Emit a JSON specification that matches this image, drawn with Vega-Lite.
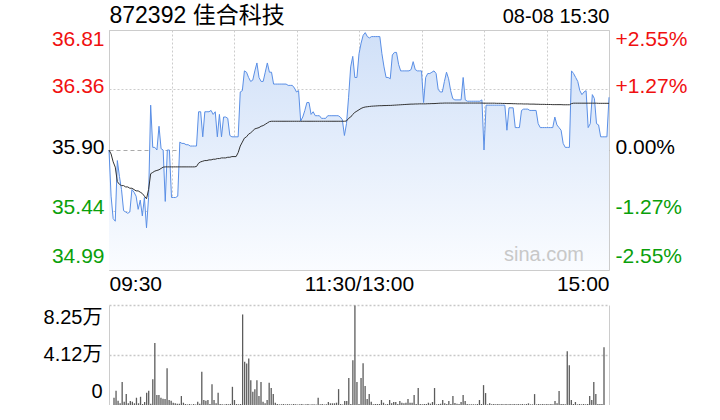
{
  "$schema": "https://vega.github.io/schema/vega-lite/v6.json",
  "padding": {"left": 43, "top": 3, "right": 0, "bottom": 0},
  "bounds": "flush",
  "spacing": 35,
  "config": {
    "view": {"stroke": null},
    "font": "Liberation Sans, Noto Sans CJK SC, sans-serif",
    "axis": {"labelFont": "Liberation Sans, Noto Sans CJK SC, sans-serif", "titleFont": "Liberation Sans, Noto Sans CJK SC, sans-serif"}
  },
  "data": {"values": [
    {"t":0,"p":35.90,"a":35.900,"v":6000},{"t":1,"p":35.55,"a":35.870,"v":11800},{"t":2,"p":35.38,"a":35.810,"v":3500},{"t":3,"p":35.36,"a":35.770,"v":1400},{"t":4,"p":35.82,"a":35.660,"v":18900},{"t":5,"p":35.70,"a":35.640,"v":2700},{"t":6,"p":35.60,"a":35.630,"v":9000},{"t":7,"p":35.44,"a":35.630,"v":1400},{"t":8,"p":35.43,"a":35.620,"v":3300},{"t":9,"p":35.42,"a":35.620,"v":2700},
    {"t":10,"p":35.43,"a":35.610,"v":1400},{"t":11,"p":35.60,"a":35.610,"v":6000},{"t":12,"p":35.58,"a":35.600,"v":1400},{"t":13,"p":35.55,"a":35.590,"v":6800},{"t":14,"p":35.45,"a":35.590,"v":800},{"t":15,"p":35.52,"a":35.580,"v":2500},{"t":16,"p":35.40,"a":35.570,"v":10100},{"t":17,"p":35.54,"a":35.550,"v":11800},{"t":18,"p":35.31,"a":35.530,"v":1100},{"t":19,"p":35.54,"a":35.600,"v":21300},
    {"t":20,"p":36.24,"a":35.720,"v":51200},{"t":21,"p":35.92,"a":35.730,"v":8200},{"t":22,"p":35.92,"a":35.740,"v":8200},{"t":23,"p":35.90,"a":35.745,"v":6000},{"t":24,"p":36.08,"a":35.750,"v":5200},{"t":25,"p":35.91,"a":35.760,"v":4900},{"t":26,"p":35.90,"a":35.770,"v":30400},{"t":27,"p":35.51,"a":35.772,"v":4100},{"t":28,"p":35.90,"a":35.772,"v":3500},{"t":29,"p":35.90,"a":35.772,"v":1900},
    {"t":30,"p":35.54,"a":35.772,"v":1400},{"t":31,"p":35.54,"a":35.772,"v":1100},{"t":32,"p":35.54,"a":35.772,"v":1100},{"t":33,"p":35.55,"a":35.772,"v":7400},{"t":34,"p":35.96,"a":35.772,"v":1900},{"t":35,"p":35.95,"a":35.772,"v":800},{"t":36,"p":35.95,"a":35.772,"v":500},{"t":37,"p":35.94,"a":35.772,"v":800},{"t":38,"p":35.94,"a":35.772,"v":400},{"t":39,"p":35.93,"a":35.772,"v":800},
    {"t":40,"p":35.93,"a":35.772,"v":500},{"t":41,"p":35.93,"a":35.772,"v":2700},{"t":42,"p":35.93,"a":35.775,"v":1100},{"t":43,"p":36.19,"a":35.800,"v":27400},{"t":44,"p":36.19,"a":35.810,"v":4100},{"t":45,"p":36.00,"a":35.815,"v":3600},{"t":46,"p":36.19,"a":35.820,"v":4100},{"t":47,"p":36.19,"a":35.820,"v":800},{"t":48,"p":36.19,"a":35.825,"v":17200},{"t":49,"p":36.20,"a":35.825,"v":4100},
    {"t":50,"p":36.17,"a":35.830,"v":1400},{"t":51,"p":36.19,"a":35.830,"v":10100},{"t":52,"p":36.00,"a":35.835,"v":800},{"t":53,"p":36.17,"a":35.835,"v":600},{"t":54,"p":36.00,"a":35.840,"v":500},{"t":55,"p":36.15,"a":35.840,"v":800},{"t":56,"p":36.15,"a":35.840,"v":600},{"t":57,"p":36.14,"a":35.845,"v":900},{"t":58,"p":36.01,"a":35.845,"v":15000},{"t":59,"p":36.00,"a":35.850,"v":4100},
    {"t":60,"p":36.00,"a":35.850,"v":800},{"t":61,"p":36.00,"a":35.850,"v":600},{"t":62,"p":36.00,"a":35.880,"v":800},{"t":63,"p":36.34,"a":35.930,"v":74700},{"t":64,"p":36.35,"a":35.960,"v":35600},{"t":65,"p":36.50,"a":35.990,"v":34200},{"t":66,"p":36.49,"a":36.000,"v":38300},{"t":67,"p":36.45,"a":36.020,"v":20500},{"t":68,"p":36.42,"a":36.030,"v":10900},{"t":69,"p":36.43,"a":36.045,"v":12900},
    {"t":70,"p":36.50,"a":36.060,"v":20500},{"t":71,"p":36.56,"a":36.065,"v":7400},{"t":72,"p":36.45,"a":36.070,"v":18900},{"t":73,"p":36.42,"a":36.080,"v":2700},{"t":74,"p":36.42,"a":36.085,"v":1400},{"t":75,"p":36.49,"a":36.095,"v":4100},{"t":76,"p":36.56,"a":36.105,"v":18300},{"t":77,"p":36.49,"a":36.115,"v":14000},{"t":78,"p":36.49,"a":36.118,"v":9000},{"t":79,"p":36.40,"a":36.118,"v":1900},
    {"t":80,"p":36.40,"a":36.118,"v":800},{"t":81,"p":36.40,"a":36.118,"v":500},{"t":82,"p":36.40,"a":36.118,"v":600},{"t":83,"p":36.40,"a":36.118,"v":800},{"t":84,"p":36.40,"a":36.118,"v":500},{"t":85,"p":36.40,"a":36.118,"v":700},{"t":86,"p":36.39,"a":36.118,"v":600},{"t":87,"p":36.39,"a":36.118,"v":500},{"t":88,"p":36.39,"a":36.118,"v":800},{"t":89,"p":36.37,"a":36.118,"v":600},
    {"t":90,"p":36.34,"a":36.118,"v":500},{"t":91,"p":36.35,"a":36.118,"v":700},{"t":92,"p":36.12,"a":36.118,"v":800},{"t":93,"p":36.15,"a":36.118,"v":500},{"t":94,"p":36.20,"a":36.118,"v":600},{"t":95,"p":36.26,"a":36.118,"v":800},{"t":96,"p":36.26,"a":36.118,"v":500},{"t":97,"p":36.17,"a":36.118,"v":600},{"t":98,"p":36.19,"a":36.118,"v":700},{"t":99,"p":36.16,"a":36.118,"v":500},
    {"t":100,"p":36.16,"a":36.118,"v":6000},{"t":101,"p":36.16,"a":36.118,"v":600},{"t":102,"p":36.14,"a":36.118,"v":800},{"t":103,"p":36.14,"a":36.118,"v":500},{"t":104,"p":36.14,"a":36.118,"v":700},{"t":105,"p":36.16,"a":36.118,"v":2500},{"t":106,"p":36.16,"a":36.118,"v":1400},{"t":107,"p":36.16,"a":36.118,"v":1400},{"t":108,"p":36.16,"a":36.118,"v":1400},{"t":109,"p":36.16,"a":36.118,"v":1900},
    {"t":110,"p":36.16,"a":36.118,"v":13100},{"t":111,"p":36.15,"a":36.118,"v":800},{"t":112,"p":36.13,"a":36.118,"v":500},{"t":113,"p":36.01,"a":36.118,"v":3300},{"t":114,"p":36.10,"a":36.120,"v":3300},{"t":115,"p":36.30,"a":36.140,"v":22200},{"t":116,"p":36.53,"a":36.150,"v":800},{"t":117,"p":36.61,"a":36.170,"v":36900},{"t":118,"p":36.45,"a":36.185,"v":82100},{"t":119,"p":36.45,"a":36.195,"v":18900},
    {"t":120,"p":36.63,"a":36.205,"v":800},{"t":121,"p":36.71,"a":36.215,"v":22200},{"t":122,"p":36.77,"a":36.222,"v":34500},{"t":123,"p":36.79,"a":36.226,"v":15600},{"t":124,"p":36.76,"a":36.228,"v":4900},{"t":125,"p":36.75,"a":36.230,"v":9000},{"t":126,"p":36.76,"a":36.232,"v":2700},{"t":127,"p":36.76,"a":36.233,"v":550},{"t":128,"p":36.76,"a":36.234,"v":820},{"t":129,"p":36.76,"a":36.235,"v":820},
    {"t":130,"p":36.76,"a":36.236,"v":820},{"t":131,"p":36.63,"a":36.236,"v":4100},{"t":132,"p":36.53,"a":36.237,"v":1900},{"t":133,"p":36.45,"a":36.237,"v":550},{"t":134,"p":36.45,"a":36.238,"v":820},{"t":135,"p":36.44,"a":36.238,"v":4100},{"t":136,"p":36.62,"a":36.239,"v":1370},{"t":137,"p":36.64,"a":36.240,"v":2460},{"t":138,"p":36.64,"a":36.241,"v":2460},{"t":139,"p":36.55,"a":36.242,"v":820},
    {"t":140,"p":36.50,"a":36.243,"v":3280},{"t":141,"p":36.50,"a":36.244,"v":1900},{"t":142,"p":36.50,"a":36.245,"v":1370},{"t":143,"p":36.50,"a":36.246,"v":1900},{"t":144,"p":36.50,"a":36.247,"v":4900},{"t":145,"p":36.51,"a":36.248,"v":1900},{"t":146,"p":36.57,"a":36.248,"v":1900},{"t":147,"p":36.51,"a":36.249,"v":8200},{"t":148,"p":36.50,"a":36.249,"v":820},{"t":149,"p":36.50,"a":36.250,"v":14000},
    {"t":150,"p":36.50,"a":36.250,"v":820},{"t":151,"p":36.26,"a":36.250,"v":550},{"t":152,"p":36.45,"a":36.250,"v":820},{"t":153,"p":36.48,"a":36.251,"v":820},{"t":154,"p":36.48,"a":36.251,"v":1900},{"t":155,"p":36.49,"a":36.252,"v":1100},{"t":156,"p":36.50,"a":36.252,"v":2460},{"t":157,"p":36.48,"a":36.253,"v":14000},{"t":158,"p":36.36,"a":36.254,"v":550},{"t":159,"p":36.34,"a":36.255,"v":820},
    {"t":160,"p":36.34,"a":36.255,"v":1100},{"t":161,"p":36.42,"a":36.256,"v":4100},{"t":162,"p":36.49,"a":36.256,"v":1370},{"t":163,"p":36.44,"a":36.256,"v":820},{"t":164,"p":36.35,"a":36.256,"v":3280},{"t":165,"p":36.29,"a":36.256,"v":820},{"t":166,"p":36.28,"a":36.256,"v":7400},{"t":167,"p":36.28,"a":36.256,"v":1600},{"t":168,"p":36.28,"a":36.256,"v":1100},{"t":169,"p":36.28,"a":36.256,"v":820},
    {"t":170,"p":36.45,"a":36.256,"v":2460},{"t":171,"p":36.28,"a":36.256,"v":8200},{"t":172,"p":36.27,"a":36.256,"v":3280},{"t":173,"p":36.27,"a":36.256,"v":820},{"t":174,"p":36.27,"a":36.256,"v":550},{"t":175,"p":36.27,"a":36.256,"v":550},{"t":176,"p":36.27,"a":36.256,"v":550},{"t":177,"p":36.27,"a":36.256,"v":550},{"t":178,"p":36.27,"a":36.256,"v":820},{"t":179,"p":36.28,"a":36.256,"v":4100},
    {"t":180,"p":35.90,"a":36.255,"v":820},{"t":181,"p":36.24,"a":36.255,"v":16400},{"t":182,"p":36.24,"a":36.255,"v":9850},{"t":183,"p":36.24,"a":36.255,"v":550},{"t":184,"p":36.24,"a":36.255,"v":1370},{"t":185,"p":36.24,"a":36.255,"v":550},{"t":186,"p":36.24,"a":36.254,"v":820},{"t":187,"p":36.24,"a":36.254,"v":550},{"t":188,"p":36.24,"a":36.254,"v":820},{"t":189,"p":36.24,"a":36.253,"v":550},
    {"t":190,"p":36.24,"a":36.253,"v":820},{"t":191,"p":36.05,"a":36.252,"v":550},{"t":192,"p":36.22,"a":36.252,"v":820},{"t":193,"p":36.22,"a":36.252,"v":550},{"t":194,"p":36.22,"a":36.251,"v":820},{"t":195,"p":36.07,"a":36.251,"v":550},{"t":196,"p":36.07,"a":36.250,"v":820},{"t":197,"p":36.07,"a":36.250,"v":550},{"t":198,"p":36.20,"a":36.250,"v":820},{"t":199,"p":36.21,"a":36.249,"v":550},
    {"t":200,"p":36.21,"a":36.249,"v":820},{"t":201,"p":36.21,"a":36.249,"v":550},{"t":202,"p":36.20,"a":36.248,"v":820},{"t":203,"p":36.20,"a":36.248,"v":1370},{"t":204,"p":36.20,"a":36.248,"v":550},{"t":205,"p":36.20,"a":36.247,"v":550},{"t":206,"p":36.10,"a":36.247,"v":9000},{"t":207,"p":36.07,"a":36.246,"v":550},{"t":208,"p":36.07,"a":36.246,"v":820},{"t":209,"p":36.07,"a":36.246,"v":550},
    {"t":210,"p":36.07,"a":36.245,"v":820},{"t":211,"p":36.07,"a":36.245,"v":550},{"t":212,"p":36.07,"a":36.245,"v":820},{"t":213,"p":36.07,"a":36.244,"v":550},{"t":214,"p":36.15,"a":36.244,"v":820},{"t":215,"p":36.09,"a":36.244,"v":550},{"t":216,"p":36.07,"a":36.244,"v":3280},{"t":217,"p":36.05,"a":36.244,"v":1370},{"t":218,"p":35.95,"a":36.243,"v":11500},{"t":219,"p":35.92,"a":36.243,"v":820},
    {"t":220,"p":35.92,"a":36.243,"v":820},{"t":221,"p":35.92,"a":36.243,"v":550},{"t":222,"p":36.50,"a":36.252,"v":44300},{"t":223,"p":36.48,"a":36.255,"v":32800},{"t":224,"p":36.45,"a":36.255,"v":4100},{"t":225,"p":36.42,"a":36.255,"v":820},{"t":226,"p":36.35,"a":36.255,"v":2460},{"t":227,"p":36.32,"a":36.255,"v":550},{"t":228,"p":36.34,"a":36.255,"v":820},{"t":229,"p":36.35,"a":36.255,"v":550},
    {"t":230,"p":36.07,"a":36.255,"v":820},{"t":231,"p":36.10,"a":36.255,"v":550},{"t":232,"p":36.32,"a":36.255,"v":820},{"t":233,"p":36.29,"a":36.255,"v":7400},{"t":234,"p":36.10,"a":36.255,"v":4100},{"t":235,"p":36.09,"a":36.254,"v":18900},{"t":236,"p":36.00,"a":36.254,"v":9000},{"t":237,"p":36.00,"a":36.254,"v":820},{"t":238,"p":36.00,"a":36.254,"v":820},{"t":239,"p":36.00,"a":36.254,"v":820},
    {"t":240,"p":36.30,"a":36.254,"v":47600}
  ]},
  "vconcat": [
    {
      "width": 500,
      "height": 240,
      "view": {"stroke": "#cccccc", "strokeWidth": 1},
      "layer": [
        {
          "layer": [
            {
              "mark": {"type": "area", "stroke": null, "fill": {"gradient": "linear", "x1": 0, "y1": 0, "x2": 0, "y2": 1, "stops": [{"offset": 0, "color": "#d0e0f8"}, {"offset": 1, "color": "#fafcff"}]}},
              "encoding": {
                "x": {"field": "t", "type": "quantitative", "scale": {"domain": [0, 240], "nice": false, "zero": false},
                  "axis": {"values": [0, 30, 60, 90, 120, 150, 180, 210, 240], "labelExpr": "datum.value == 0 ? '09:30' : datum.value == 120 ? '11:30/13:00' : datum.value == 240 ? '15:00' : ''", "labelFlush": true, "labelOverlap": false, "labelFontSize": 21, "labelColor": "#000", "labelPadding": 3, "ticks": false, "domain": false, "grid": true, "gridColor": "#cccccc", "gridDash": [2, 2], "title": null}},
                "y": {"field": "p", "type": "quantitative", "scale": {"domain": [34.99, 36.81], "nice": false, "zero": false},
                  "axis": {"orient": "left", "values": [34.99, 35.44, 35.90, 36.36, 36.81], "format": ".2f", "labelOverlap": false, "labelFontSize": 21, "labelPadding": 5,
                    "labelColor": {"condition": [{"test": "datum.value > 35.95", "value": "#f01010"}, {"test": "datum.value < 35.85", "value": "#0aa00a"}], "value": "#000000"},
                    "labelOffset": {"condition": [{"test": "datum.value > 36.7", "value": 9}, {"test": "datum.value < 35.1", "value": -14}], "value": -3},
                    "ticks": false, "domain": false, "grid": true,
                    "gridColor": {"condition": {"test": "abs(datum.value - 35.9) < 0.01", "value": "#aaaaaa"}, "value": "#cccccc"},
                    "gridDash": {"condition": {"test": "abs(datum.value - 35.9) < 0.01", "value": [4, 3]}, "value": [2, 2]},
                    "title": "872392 佳合科技", "titleAngle": 0, "titleAlign": "left", "titleBaseline": "alphabetic", "titleX": 0, "titleY": -8, "titleFontSize": 23, "titleFontWeight": "normal", "titleColor": "#000"}},
                "y2": {"datum": 34.99}
              }
            },
            {
              "mark": {"type": "line", "color": "#5a8fe6", "strokeWidth": 1, "interpolate": "linear"},
              "encoding": {
                "x": {"field": "t", "type": "quantitative"},
                "y": {"field": "p", "type": "quantitative"}
              }
            },
            {
              "data": {"values": [{"label": "sina.com"}]},
              "mark": {"type": "text", "align": "right", "baseline": "middle", "fontSize": 20, "color": "#c8c8c8"},
              "encoding": {
                "x": {"datum": 228},
                "y": {"datum": 35.10},
                "text": {"field": "label"}
              }
            }
          ]
        },
        {
          "mark": {"type": "line", "color": "#333333", "strokeWidth": 1},
          "encoding": {
            "x": {"field": "t", "type": "quantitative"},
            "y": {"field": "a", "type": "quantitative", "scale": {"domain": [34.99, 36.81], "nice": false, "zero": false},
              "axis": {"orient": "right", "values": [34.99, 35.44, 35.90, 36.36, 36.81], "labelOverlap": false, "labelFontSize": 21, "labelPadding": 6,
                "labelExpr": "datum.value > 36.7 ? '+2.55%' : datum.value > 36 ? '+1.27%' : datum.value > 35.8 ? '0.00%' : datum.value > 35.2 ? '-1.27%' : '-2.55%'",
                "labelColor": {"condition": [{"test": "datum.value > 35.95", "value": "#f01010"}, {"test": "datum.value < 35.85", "value": "#0aa00a"}], "value": "#000000"},
                "labelOffset": {"condition": [{"test": "datum.value > 36.7", "value": 9}, {"test": "datum.value < 35.1", "value": -14}], "value": -3},
                "ticks": false, "domain": false, "grid": false,
                "title": "08-08 15:30", "titleAngle": 0, "titleAlign": "right", "titleBaseline": "alphabetic", "titleX": 0, "titleY": -8, "titleFontSize": 20, "titleFontWeight": "normal", "titleColor": "#000"}}
          }
        }
      ],
      "resolve": {"scale": {"y": "independent"}, "axis": {"y": "independent"}}
    },
    {
      "width": 500,
      "height": 100,
      "layer": [
        {
          "mark": {"type": "bar", "color": "#5c5c5c", "size": 1.3},
          "encoding": {
            "x": {"field": "t", "type": "quantitative", "scale": {"domain": [0, 240], "nice": false, "zero": false}, "axis": null},
            "y": {"field": "v", "type": "quantitative", "scale": {"domain": [0, 82500], "nice": false},
              "axis": {"orient": "left", "values": [0, 41250, 82500], "labelOverlap": false, "labelFontSize": 20, "labelPadding": 7, "labelColor": "#000",
                "labelExpr": "datum.value > 80000 ? '8.25万' : datum.value > 40000 ? '4.12万' : '0'",
                "labelOffset": {"condition": [{"test": "datum.value > 80000", "value": 12}, {"test": "datum.value < 1000", "value": -14}], "value": -1},
                "ticks": false, "domain": true, "domainColor": "#cccccc", "grid": true, "gridColor": "#c8c8c8", "gridDash": [2, 2], "gridWidth": 1.5,
                "gridOpacity": {"condition": {"test": "datum.value < 1000", "value": 0}, "value": 1}, "title": null}}
          }
        },
        {
          "mark": {"type": "bar", "opacity": 0, "size": 1},
          "encoding": {
            "x": {"field": "t", "type": "quantitative"},
            "y": {"field": "v", "type": "quantitative", "scale": {"domain": [0, 82500], "nice": false},
              "axis": {"orient": "right", "labels": false, "ticks": false, "grid": false, "domain": true, "domainColor": "#cccccc", "title": null}}
          }
        }
      ],
      "resolve": {"scale": {"y": "independent"}, "axis": {"y": "independent"}}
    }
  ]
}
